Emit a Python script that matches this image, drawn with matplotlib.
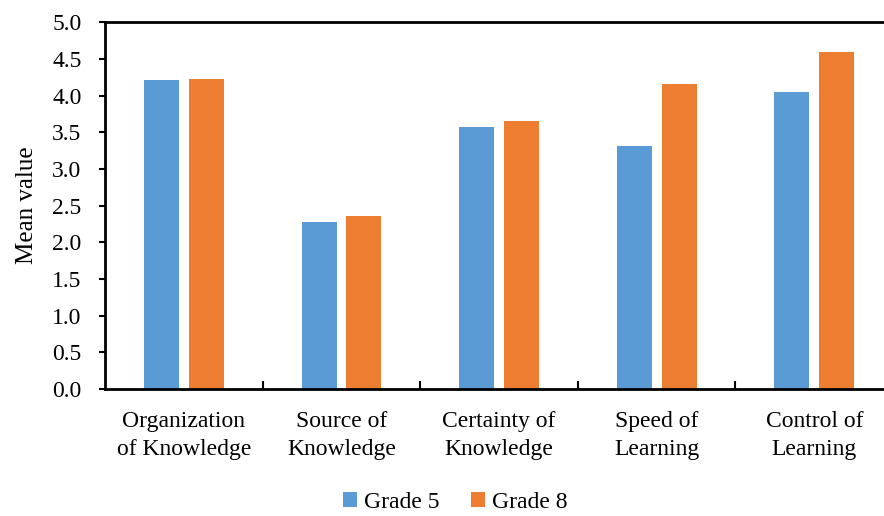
import numpy as np
import matplotlib.pyplot as plt
from matplotlib.ticker import FixedLocator

plt.rcParams['font.family'] = ['Liberation Serif', 'DejaVu Serif']

categories = ["Organization\nof Knowledge", "Source of\nKnowledge", "Certainty of\nKnowledge",
              "Speed of\nLearning", "Control of\nLearning"]
grade5 = [4.21, 2.28, 3.57, 3.31, 4.05]
grade8 = [4.22, 2.36, 3.65, 4.16, 4.59]

blue = "#5B9BD5"
orange = "#ED7D31"

fig = plt.figure(figsize=(8.84, 5.16), dpi=100)
ax = fig.add_axes([0.1188, 0.246, 0.8915, 0.711])

x = np.arange(len(categories))
w = 0.222
ax.bar(x - 0.142, grade5, w, color=blue, label="Grade 5")
ax.bar(x + 0.142, grade8, w, color=orange, label="Grade 8")

ax.set_xlim(-0.5, len(categories) - 0.5)
ax.set_ylim(0, 5)
ax.set_yticks(np.arange(0, 5.01, 0.5))
ax.set_yticklabels([f"{v:.1f}" for v in np.arange(0, 5.01, 0.5)], fontsize=17)
ax.set_xticks(x)
ax.set_xticklabels(categories, fontsize=17, linespacing=1.45)
ax.xaxis.set_minor_locator(FixedLocator(x[:-1] + 0.5))
ax.tick_params(axis='x', which='major', length=0, pad=16)
ax.tick_params(axis='x', which='minor', direction='in', length=6, width=1.5)
ax.tick_params(axis='y', direction='out', length=4, width=1.5, pad=13)
for s in ax.spines.values():
    s.set_linewidth(2)
ax.set_ylabel("Mean value", fontsize=18, labelpad=10)

fig.legend(loc='lower center', bbox_to_anchor=(0.515, -0.035), ncol=2, frameon=False,
           fontsize=17, handlelength=0.6, handleheight=0.6, handletextpad=0.3, columnspacing=1.3)

fig.savefig("out.png", dpi=100)
